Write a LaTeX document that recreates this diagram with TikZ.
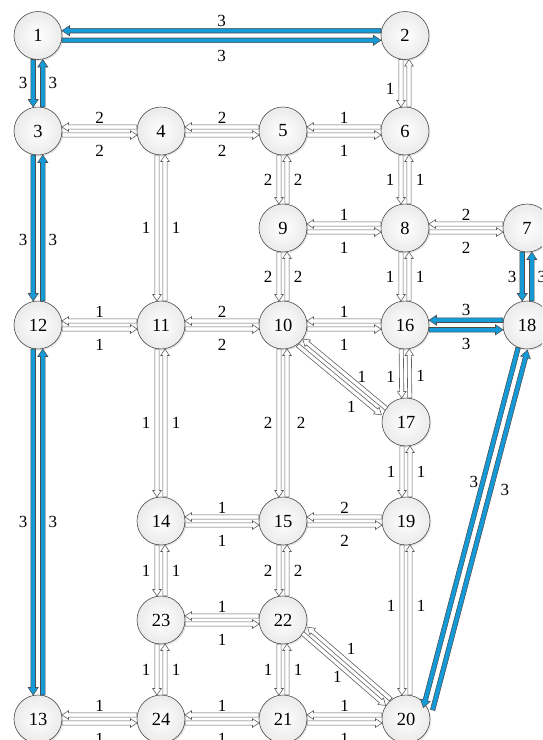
\documentclass[tikz,border=0pt]{standalone}
\usepackage{fontspec}
\setmainfont{Liberation Serif}
\usetikzlibrary{calc,shadows}
\definecolor{arrowblue}{RGB}{20,155,215}
\newcommand\nodefont{\fontsize{18.5}{18.5}\selectfont}
\newcommand\lblfont{\fontsize{17}{17}\selectfont}
\newcommand\mkarrow[7]{% #1 style #2 from #3 to #4 trim #5 pos #6 dist #7 label
  \path ($(#2)!\pairoff!-90:(#3)$) coordinate (aA)
        ($(#3)!\pairoff!90:(#2)$) coordinate (aB);
  \path ($(aA)!#4!(aB)$) coordinate (aS)
        ($(aB)!#4!(aA)$) coordinate (aE);
  \path ($(aE)!\headlen!(aS)$) coordinate (aH);
  \draw[#1] ($(aS)!\shaftw!90:(aE)$) -- ($(aH)!\shaftw!-90:(aS)$) -- ($(aH)!\headw!-90:(aS)$) -- (aE) -- ($(aH)!\headw!90:(aS)$) -- ($(aH)!\shaftw!90:(aS)$) -- ($(aS)!\shaftw!-90:(aE)$) -- cycle;
  \path ($(aA)!#5!(aB)$) coordinate (aM);
  \node[lbl] at ($(aM)!#6!-90:(aB)$) {#7};
}
\newcommand\garr[6]{\def\pairoff{4pt}\def\shaftw{2.1pt}\def\headw{4.3pt}\def\headlen{6.5pt}\mkarrow{garrow}{#1}{#2}{#3}{#4}{#5}{#6}}
\newcommand\barr[6]{\def\pairoff{4.8pt}\def\shaftw{2.3pt}\def\headw{5pt}\def\headlen{7.5pt}\mkarrow{barrow}{#1}{#2}{#3}{#4}{#5}{#6}}
\begin{document}
\begin{tikzpicture}[x=1pt,y=-1pt,
  nd/.style={circle, minimum size=48pt, inner sep=0pt, draw=gray!60!black, line width=0.6pt,
    inner color=white, outer color=gray!16, font=\nodefont,
    drop shadow={opacity=0.2, shadow xshift=1.3pt, shadow yshift=-1.5pt}},
  garrow/.style={draw=black!62, fill=white, line width=0.6pt},
  barrow/.style={draw=black!70, fill=arrowblue, line width=0.55pt},
  lbl/.style={inner sep=0pt, font=\lblfont}]
\useasboundingbox (0,0) rectangle (542,740);
\clip (0,0) rectangle (542,740);
% nodes
\node[nd] (n1) at (38,35.5) {1};
\node[nd] (n2) at (405,35.5) {2};
\node[nd] (n3) at (38,131) {3};
\node[nd] (n4) at (161,131) {4};
\node[nd] (n5) at (283,131) {5};
\node[nd] (n6) at (405,131) {6};
\node[nd] (n9) at (283,228) {9};
\node[nd] (n8) at (405,228) {8};
\node[nd] (n7) at (527,228) {7};
\node[nd] (n12) at (38,325) {12};
\node[nd] (n11) at (161,325) {11};
\node[nd] (n10) at (283,325) {10};
\node[nd] (n16) at (405,325) {16};
\node[nd] (n18) at (527,325) {18};
\node[nd] (n17) at (406,422) {17};
\node[nd] (n14) at (161,521) {14};
\node[nd] (n15) at (283,521) {15};
\node[nd] (n19) at (406,521) {19};
\node[nd] (n23) at (161,620) {23};
\node[nd] (n22) at (283,620) {22};
\node[nd] (n13) at (38,719) {13};
\node[nd] (n24) at (161,719) {24};
\node[nd] (n21) at (283,719) {21};
\node[nd] (n20) at (406,719) {20};
% blue arcs
\barr{n2}{n1}{24pt}{0.5}{9.5pt}{3}
\barr{n1}{n2}{24pt}{0.5}{15.5pt}{3}
\barr{n1}{n3}{24pt}{0.5}{10pt}{3}
\barr{n3}{n1}{24pt}{0.5}{10pt}{3}
\barr{n3}{n12}{24pt}{0.56}{10pt}{3}
\barr{n12}{n3}{24pt}{0.44}{10pt}{3}
\barr{n12}{n13}{24pt}{0.5}{10pt}{3}
\barr{n13}{n12}{24pt}{0.5}{10pt}{3}
\barr{n7}{n18}{24pt}{0.5}{10pt}{3}
\barr{n18}{n7}{24pt}{0.5}{10pt}{3}
\barr{n18}{n16}{24pt}{0.5}{10pt}{3}
\barr{n16}{n18}{24pt}{0.5}{14pt}{3}
\barr{n18.-100}{n20.25}{0pt}{0.38}{8.5pt}{3}
\barr{n20.25}{n18.-100}{0pt}{0.62}{14pt}{3}
% gray arcs, row 131
\garr{n4}{n3}{24pt}{0.5}{9pt}{2}
\garr{n3}{n4}{24pt}{0.5}{16pt}{2}
\garr{n5}{n4}{24pt}{0.5}{9pt}{2}
\garr{n4}{n5}{24pt}{0.5}{16pt}{2}
\garr{n6}{n5}{24pt}{0.5}{9pt}{1}
\garr{n5}{n6}{24pt}{0.5}{16pt}{1}
\garr{n2}{n6}{24pt}{0.56}{11pt}{1}
\garr{n6}{n2}{24pt}{0.5}{11pt}{}
\garr{n6}{n8}{24pt}{0.5}{11pt}{1}
\garr{n8}{n6}{24pt}{0.5}{11pt}{1}
\garr{n5}{n9}{24pt}{0.5}{11pt}{2}
\garr{n9}{n5}{24pt}{0.5}{11pt}{2}
% row 228
\garr{n8}{n9}{24pt}{0.5}{9pt}{1}
\garr{n9}{n8}{24pt}{0.5}{16pt}{1}
\garr{n7}{n8}{24pt}{0.5}{9pt}{2}
\garr{n8}{n7}{24pt}{0.5}{16pt}{2}
\garr{n4}{n11}{24pt}{0.5}{11pt}{1}
\garr{n11}{n4}{24pt}{0.5}{11pt}{1}
\garr{n9}{n10}{24pt}{0.5}{11pt}{2}
\garr{n10}{n9}{24pt}{0.5}{11pt}{2}
\garr{n8}{n16}{24pt}{0.5}{11pt}{1}
\garr{n16}{n8}{24pt}{0.5}{11pt}{1}
% row 325
\garr{n11}{n12}{24pt}{0.5}{9pt}{1}
\garr{n12}{n11}{24pt}{0.5}{16pt}{1}
\garr{n10}{n11}{24pt}{0.5}{9pt}{2}
\garr{n11}{n10}{24pt}{0.5}{16pt}{2}
\garr{n16}{n10}{24pt}{0.5}{9pt}{1}
\garr{n10}{n16}{24pt}{0.5}{16pt}{1}
\garr{n10.-45}{n17.155}{0pt}{0.74}{13pt}{1}
\garr{n17.155}{n10.-45}{0pt}{0.36}{8.7pt}{1}
\garr{n16}{n17}{24pt}{0.53}{11pt}{1}
\garr{n17}{n16}{24pt}{0.47}{11pt}{1}
\garr{n11}{n14}{24pt}{0.5}{11pt}{1}
\garr{n14}{n11}{24pt}{0.5}{11pt}{1}
\garr{n10}{n15}{24pt}{0.5}{11pt}{2}
\garr{n15}{n10}{24pt}{0.5}{14pt}{2}
\garr{n17}{n19}{24pt}{0.5}{11pt}{1}
\garr{n19}{n17}{24pt}{0.5}{11pt}{1}
% row 521
\garr{n15}{n14}{24pt}{0.5}{9pt}{1}
\garr{n14}{n15}{24pt}{0.5}{16pt}{1}
\garr{n19}{n15}{24pt}{0.5}{9pt}{2}
\garr{n15}{n19}{24pt}{0.5}{16pt}{2}
\garr{n14}{n23}{24pt}{0.5}{11pt}{1}
\garr{n23}{n14}{24pt}{0.5}{11pt}{1}
\garr{n15}{n22}{24pt}{0.5}{11pt}{2}
\garr{n22}{n15}{24pt}{0.5}{11pt}{2}
\garr{n19}{n20}{24pt}{0.43}{11pt}{1}
\garr{n20}{n19}{24pt}{0.57}{11pt}{1}
% row 620
\garr{n22}{n23}{24pt}{0.5}{9pt}{1}
\garr{n23}{n22}{24pt}{0.5}{16pt}{1}
\garr{n22.-25}{n20.137}{0pt}{0.5}{10.3pt}{1}
\garr{n20.137}{n22.-25}{0pt}{0.57}{11.8pt}{1}
\garr{n23}{n24}{24pt}{0.5}{11pt}{1}
\garr{n24}{n23}{24pt}{0.5}{11pt}{1}
\garr{n22}{n21}{24pt}{0.5}{11pt}{1}
\garr{n21}{n22}{24pt}{0.5}{11pt}{1}
% row 719
\garr{n24}{n13}{24pt}{0.5}{9pt}{1}
\garr{n13}{n24}{24pt}{0.5}{16pt}{1}
\garr{n21}{n24}{24pt}{0.5}{9pt}{1}
\garr{n24}{n21}{24pt}{0.5}{16pt}{1}
\garr{n20}{n21}{24pt}{0.5}{9pt}{1}
\garr{n21}{n20}{24pt}{0.5}{16pt}{1}
\end{tikzpicture}
\end{document}
